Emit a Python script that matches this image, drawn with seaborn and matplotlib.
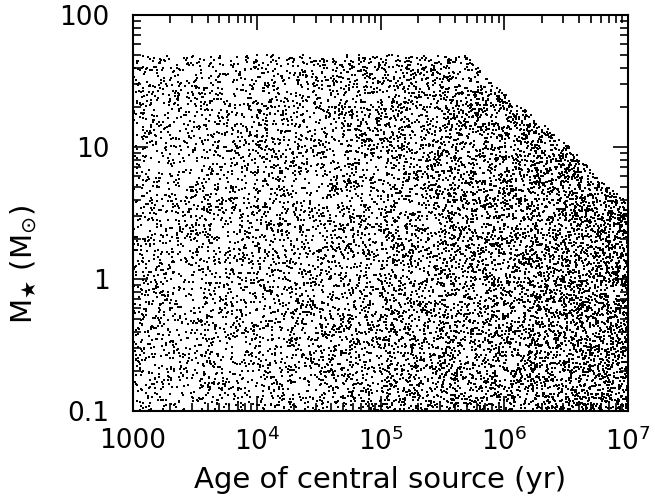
import numpy as np
import pandas as pd
import matplotlib
matplotlib.use("Agg")
import matplotlib.pyplot as plt
import seaborn as sns
from matplotlib.ticker import FixedLocator, FixedFormatter, NullFormatter

# ---- values ----
# model counts per half-decade bin of log(age) (estimated from dot density)
age_bin_edges_log = [3.0, 3.5, 4.0, 4.5, 5.0, 5.5, 6.0, 6.5, 7.0]
models_per_bin = [950, 1050, 1170, 1350, 1620, 1850, 1850, 1850]
# upper mass envelope (log age, log mass)
envelope_log_age = [3.0, 5.683, 5.828, 6.071, 6.345, 6.556, 6.774, 7.0]
envelope_log_mass = [1.699, 1.697, 1.561, 1.356, 1.152, 0.977, 0.75, 0.576]
mass_min_log = -1.0

x_ticks = [1e3, 1e4, 1e5, 1e6, 1e7]
x_tick_labels = ["1000", r"$\mathregular{10^4}$", r"$\mathregular{10^5}$",
                 r"$\mathregular{10^6}$", r"$\mathregular{10^7}$"]
y_ticks = [0.1, 1, 10, 100]
y_tick_labels = ["0.1", "1", "10", "100"]

# individual model positions cannot be read one by one; they are scattered
# within each bin under the traced envelope (seeded, reproducible)
rng = np.random.default_rng(12345)
ages, masses = [], []
for lo, hi, n in zip(age_bin_edges_log[:-1], age_bin_edges_log[1:], models_per_bin):
    lt = rng.uniform(lo, hi, n)
    top = np.interp(lt, envelope_log_age, envelope_log_mass)
    lm = mass_min_log + rng.uniform(0, 1, n) * (top - mass_min_log)
    ages.append(10 ** lt)
    masses.append(10 ** lm)
df = pd.DataFrame({"age": np.concatenate(ages), "mass": np.concatenate(masses)})

sns.set_style("ticks")
plt.rcParams["font.family"] = ["DejaVu Sans"]
plt.rcParams["mathtext.fontset"] = "dejavusans"
plt.rcParams["text.color"] = "black"
plt.rcParams["axes.labelcolor"] = "black"

fig = plt.figure(figsize=(6.55, 4.98), dpi=100)
ax = fig.add_axes([133 / 655, 87 / 498, 495 / 655, 396 / 498])
sns.scatterplot(data=df, x="age", y="mass", marker="s", s=2.0, color="black",
                linewidth=0, ax=ax, legend=False)
ax.set_xscale("log")
ax.set_yscale("log")
ax.set_xlim(1e3, 1e7)
ax.set_ylim(0.1, 100)

ax.xaxis.set_major_locator(FixedLocator(x_ticks))
ax.xaxis.set_major_formatter(FixedFormatter(x_tick_labels))
ax.yaxis.set_major_locator(FixedLocator(y_ticks))
ax.yaxis.set_major_formatter(FixedFormatter(y_tick_labels))
minor_x = [m * 10 ** e for e in range(3, 7) for m in range(2, 10)]
minor_y = [m * 10 ** e for e in range(-1, 2) for m in range(2, 10)]
ax.xaxis.set_minor_locator(FixedLocator(minor_x))
ax.yaxis.set_minor_locator(FixedLocator(minor_y))
ax.xaxis.set_minor_formatter(NullFormatter())
ax.yaxis.set_minor_formatter(NullFormatter())

ax.tick_params(which="both", direction="in", top=True, right=True, width=1.2,
               labelsize=19, colors="black")
ax.tick_params(axis="x", which="major", pad=12)
ax.tick_params(axis="y", which="major", pad=17)
ax.tick_params(which="major", length=11)
ax.tick_params(which="minor", length=6)
for sp in ax.spines.values():
    sp.set_linewidth(1.5)
    sp.set_color("black")

ax.set_xlabel("Age of central source (yr)", fontsize=21, labelpad=7)
ax.set_ylabel(r"M$_{\bigstar}$ (M$_{\odot}$)", fontsize=21)
ax.yaxis.set_label_coords(-0.19, 0.37)

fig.savefig("out.png", dpi=100, facecolor="white")
